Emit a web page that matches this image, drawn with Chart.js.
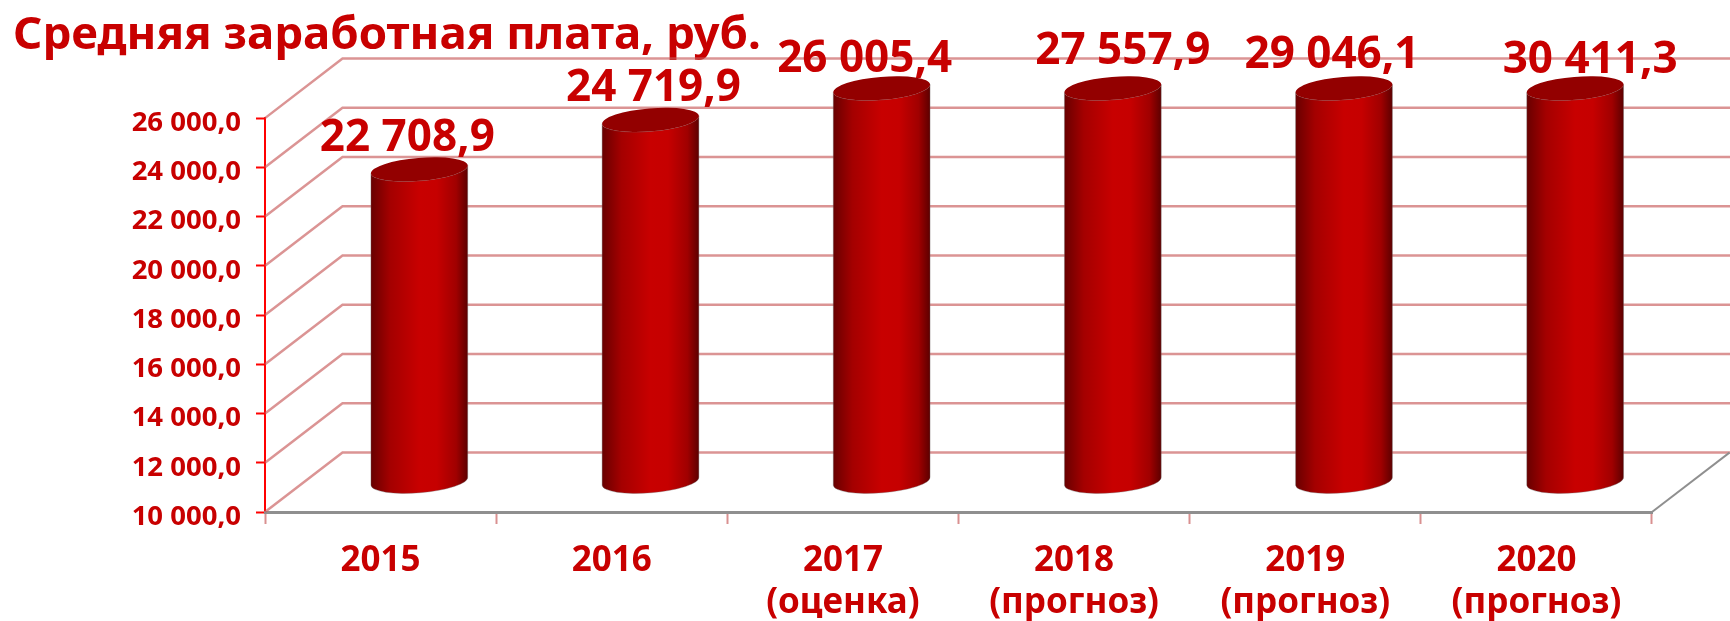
<!DOCTYPE html>
<html>
<head>
<meta charset="utf-8">
<style>
  html, body { margin: 0; background: #fff; }
  canvas { display: block; }
</style>
<script src="https://cdn.jsdelivr.net/npm/chart.js@4"></script>
</head>
<body>
<canvas id="salaryChart" width="1730" height="621"></canvas>
<script>
// Data
const categories = [
    '2015',
    '2016',
    ['2017', '(оценка)'],
    ['2018', '(прогноз)'],
    ['2019', '(прогноз)'],
    ['2020', '(прогноз)'],
];
const salary = [22708.9, 24719.9, 26005.4, 27557.9, 29046.1, 30411.3];
const chartTitle = 'Средняя заработная плата, руб.';

// Look of the fake 3D box
const depthX = 77.5;
const depthY = 59.5;
const red = '#c80000';
const gridPink = 'rgba(200,90,90,0.65)';
const tickPink = '#d99090';
const floorGrey = '#8f8f8f';
const fontName = '"Noto Sans", sans-serif';

// the value labels were moved by hand in the original
const labelNudge = [[-12, -31], [3, -31], [-17, -29], [10, -37], [-12, -33], [15, -28]];

function money(v) {
    return v.toFixed(1).replace('.', ',').replace(/\B(?=(\d{3})+(?!\d))(?=.*,)/g, ' ');
}

// Box walls
const boxPlugin = {
    id: 'box',
    beforeDatasetsDraw(chart) {
        const { ctx, chartArea, scales } = chart;
        ctx.save();
        ctx.lineWidth = 2.5;
        ctx.strokeStyle = gridPink;
        scales.y.ticks.forEach(t => {
            const y = scales.y.getPixelForValue(t.value);
            ctx.beginPath();
            ctx.moveTo(chartArea.left, y);
            ctx.lineTo(chartArea.left + depthX, y - depthY);
            ctx.lineTo(chart.width, y - depthY);
            ctx.stroke();
        });
        ctx.strokeStyle = floorGrey;
        ctx.lineWidth = 2;
        ctx.beginPath();
        ctx.moveTo(chartArea.right, chartArea.bottom);
        ctx.lineTo(chartArea.right + depthX, chartArea.bottom - depthY);
        ctx.stroke();
        ctx.restore();
    }
};

// Bars drawn as cylinders, standing in the middle of the box
const cylinderPlugin = {
    id: 'cylinder',
    beforeDatasetDraw(chart, args) {
        const { ctx, chartArea } = chart;
        const tilt = -0.083;
        const minor = 11.5;
        args.meta.data.forEach(bar => {
            const cx = bar.x + depthX / 2;
            const half = bar.width / 2;
            const top = Math.max(bar.y, chartArea.top) - depthY / 2;
            const bottom = bar.base - depthY / 2 - 0.5;
            const grad = ctx.createLinearGradient(cx - half, 0, cx + half, 0);
            grad.addColorStop(0, '#680000');
            grad.addColorStop(0.2, '#a40000');
            grad.addColorStop(0.5, '#c80000');
            grad.addColorStop(0.68, '#c60000');
            grad.addColorStop(0.88, '#a00000');
            grad.addColorStop(1, '#5c0000');
            ctx.save();
            ctx.beginPath();
            ctx.ellipse(cx, top, half, minor, tilt, Math.PI, 0, true);
            ctx.ellipse(cx, bottom, half, minor, tilt, 0, Math.PI, false);
            ctx.closePath();
            ctx.fillStyle = grad;
            ctx.fill();
            ctx.lineWidth = 1;
            ctx.strokeStyle = 'rgba(110,110,110,0.35)';
            ctx.stroke();
            ctx.beginPath();
            ctx.ellipse(cx, top, half, minor, tilt, 0, Math.PI * 2);
            ctx.fillStyle = '#930000';
            ctx.fill();
            ctx.restore();
        });
        return false;
    }
};

const valueLabelPlugin = {
    id: 'valueLabels',
    afterDatasetsDraw(chart) {
        const { ctx, chartArea } = chart;
        const meta = chart.getDatasetMeta(0);
        ctx.save();
        ctx.font = 'bold 44px ' + fontName;
        ctx.fillStyle = red;
        ctx.textAlign = 'center';
        ctx.textBaseline = 'middle';
        meta.data.forEach((bar, i) => {
            const top = Math.max(bar.y, chartArea.top) - depthY / 2;
            ctx.fillText(money(salary[i]), bar.x + depthX / 2 + labelNudge[i][0], top + labelNudge[i][1]);
        });
        ctx.restore();
    }
};

const salaryChart = new Chart(document.getElementById('salaryChart'), {
    type: 'bar',
    data: {
        labels: categories,
        datasets: [{
            data: salary,
            base: 10000,
            backgroundColor: red,
            barPercentage: 0.42,
            categoryPercentage: 1,
        }]
    },
    plugins: [boxPlugin, cylinderPlugin, valueLabelPlugin],
    options: {
        responsive: false,
        animation: false,
        layout: { padding: { left: 13, right: 78 } },
        plugins: {
            legend: { display: false },
            tooltip: { enabled: false },
            title: {
                display: true,
                text: chartTitle,
                align: 'start',
                color: red,
                font: { family: fontName, size: 45.6, weight: 'bold', lineHeight: 1.2 },
                padding: { top: 9, bottom: 54.4 },
            }
        },
        scales: {
            y: {
                min: 10000,
                max: 26000,
                afterFit(scale) { scale.width = 252; },
                ticks: {
                    stepSize: 2000,
                    color: red,
                    padding: 15,
                    labelOffset: 5,
                    font: { family: fontName, size: 27.5, weight: 'bold' },
                    callback: v => money(v),
                },
                border: { color: '#ff0000', width: 2 },
                grid: { drawOnChartArea: false, tickColor: '#ff0000', tickLength: 9, tickWidth: 2 },
            },
            x: {
                afterFit(scale) { scale.height = 109; },
                ticks: {
                    color: red,
                    maxRotation: 0,
                    padding: 16,
                    font: { family: fontName, size: 35, weight: 'bold', lineHeight: 1.2 },
                },
                border: { color: floorGrey, width: 3 },
                grid: { drawOnChartArea: false, tickColor: tickPink, tickLength: 12, tickWidth: 2 },
            }
        }
    }
});
</script>
</body>
</html>
